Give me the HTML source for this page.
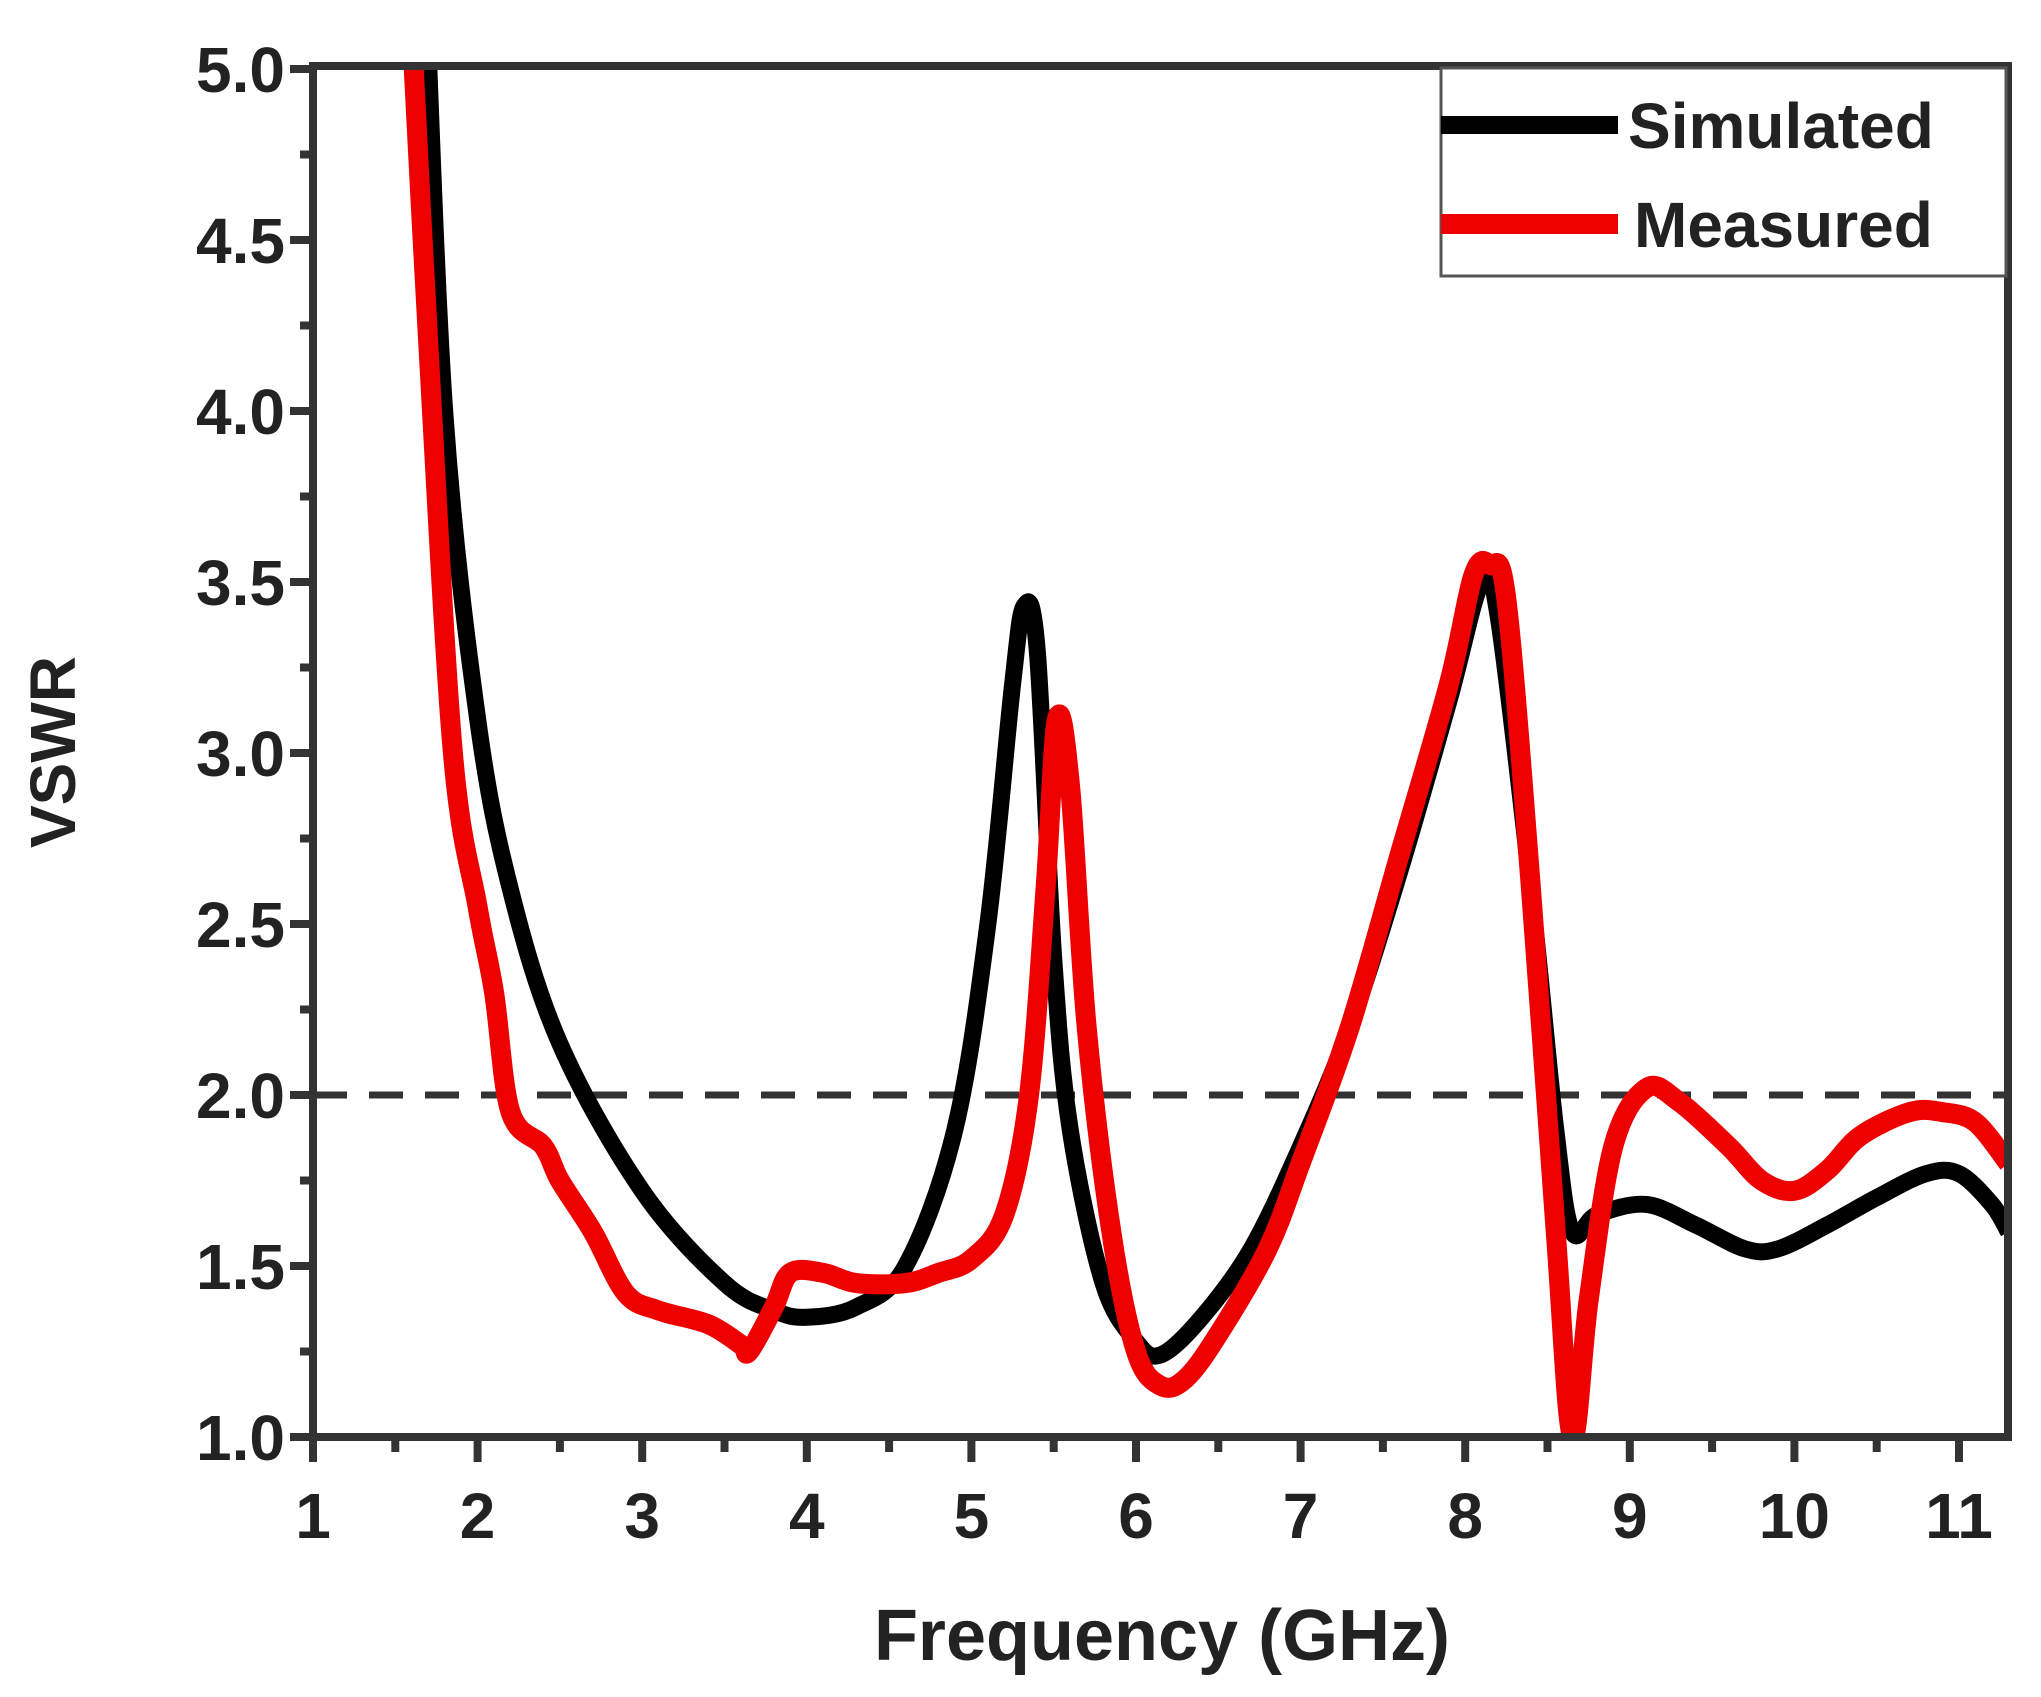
<!DOCTYPE html>
<html><head><meta charset="utf-8"><style>
html,body{margin:0;padding:0;background:#fff;}
svg{display:block;font-family:"Liberation Sans",Arial,sans-serif;font-weight:bold;}
</style></head><body>
<svg id="s" width="2041" height="1697" viewBox="0 0 2041 1697" xmlns="http://www.w3.org/2000/svg">
<rect width="2041" height="1697" fill="#fff"/>
<g id="g"></g>
<text x="75" y="752" font-size="64" text-anchor="middle" transform="rotate(-90 75 752)" fill="#222">VSWR</text>
<text x="1162" y="1660" font-size="72" text-anchor="middle" fill="#222">Frequency (GHz)</text>
<rect x="1441" y="68" width="565" height="208" fill="#fff" stroke="#555" stroke-width="3"/>
<line x1="1441" y1="125" x2="1618" y2="125" stroke="#000" stroke-width="18"/>
<line x1="1441" y1="224" x2="1618" y2="224" stroke="#e00" stroke-width="20"/>
<text x="1628" y="148" font-size="64" fill="#222">Simulated</text>
<text x="1634" y="247" font-size="64" fill="#222">Measured</text>
</svg>
<script>
var X=function(f){return 313+(f-1)*164.6}, Y=function(v){return 1437-(v-1)*342};
var g=document.getElementById('g'),h='';
h+='<defs><clipPath id="c"><rect x="313" y="64" width="1695" height="1374"/></clipPath></defs>';
h+='<line x1="313" y1="1095" x2="2008" y2="1095" stroke="#333" stroke-width="7" stroke-dasharray="34,22"/>';
function path(pts,col,w){var p=pts.map(function(a){return[X(a[0]),Y(a[1])]});var d='M'+p[0][0]+' '+p[0][1];
for(var i=0;i<p.length-1;i++){var p0=p[Math.max(0,i-1)],p1=p[i],p2=p[i+1],p3=p[Math.min(p.length-1,i+2)];
d+=' C'+(p1[0]+(p2[0]-p0[0])/6)+' '+(p1[1]+(p2[1]-p0[1])/6)+' '+(p2[0]-(p3[0]-p1[0])/6)+' '+(p2[1]-(p3[1]-p1[1])/6)+' '+p2[0]+' '+p2[1];}
return '<path d="'+d+'" fill="none" stroke="'+col+'" stroke-width="'+w+'" stroke-linejoin="round" clip-path="url(#c)"/>';}
var sim=[[1.68,5.3],[1.8,4.0],[2.0,3.1],[2.2,2.6],[2.5,2.15],[3.0,1.72],[3.5,1.45],[3.8,1.37],[4.0,1.35],[4.3,1.38],[4.6,1.5],[4.9,1.9],[5.1,2.5],[5.25,3.2],[5.32,3.43],[5.4,3.3],[5.5,2.4],[5.6,1.9],[5.8,1.45],[6.0,1.28],[6.15,1.24],[6.4,1.35],[6.7,1.55],[7.0,1.85],[7.3,2.2],[7.6,2.65],[7.9,3.15],[8.1,3.5],[8.2,3.4],[8.4,2.6],[8.55,1.9],[8.65,1.6],[8.8,1.65],[9.1,1.68],[9.4,1.62],[9.7,1.55],[9.9,1.55],[10.2,1.62],[10.5,1.7],[10.8,1.77],[11.0,1.77],[11.2,1.68],[11.3,1.6]];
var mea=[[1.58,5.3],[1.7,4.2],[1.85,3.0],[2.0,2.55],[2.1,2.3],[2.2,1.95],[2.4,1.85],[2.5,1.75],[2.7,1.6],[2.9,1.42],[3.1,1.37],[3.4,1.33],[3.6,1.27],[3.65,1.25],[3.8,1.38],[3.9,1.48],[4.1,1.48],[4.3,1.45],[4.6,1.45],[4.8,1.48],[5.0,1.52],[5.2,1.65],[5.35,2.0],[5.45,2.6],[5.52,3.1],[5.6,2.9],[5.7,2.2],[5.85,1.6],[6.0,1.25],[6.15,1.15],[6.3,1.17],[6.5,1.3],[6.8,1.55],[7.0,1.8],[7.3,2.2],[7.6,2.7],[7.9,3.2],[8.05,3.52],[8.15,3.55],[8.25,3.45],[8.4,2.6],[8.55,1.6],[8.65,1.0],[8.75,1.4],[8.9,1.85],[9.1,2.02],[9.3,1.98],[9.6,1.85],[9.8,1.75],[10.0,1.72],[10.2,1.78],[10.4,1.88],[10.7,1.95],[10.9,1.95],[11.1,1.92],[11.3,1.8]];
h+=path(sim,'#000',17);h+=path(mea,'#e00',20);
h+='<rect x="313" y="66" width="1695" height="1371" fill="none" stroke="#333" stroke-width="8"/>';
for(var f=1;f<=11.01;f+=0.5){var x=X(f),maj=Math.abs(f-Math.round(f))<0.01;
h+='<line x1="'+x+'" y1="1437" x2="'+x+'" y2="'+(maj?1462:1452)+'" stroke="#333" stroke-width="8"/>';
if(maj)h+='<text x="'+x+'" y="1538" font-size="64" text-anchor="middle" fill="#222">'+Math.round(f)+'</text>';}
for(var v=1;v<=5.01;v+=0.25){var y=Y(v),maj=Math.abs(v*2-Math.round(v*2))<0.01;
h+='<line x1="313" y1="'+y+'" x2="'+(maj?290:300)+'" y2="'+y+'" stroke="#333" stroke-width="8"/>';
if(maj)h+='<text x="285" y="'+(y+23)+'" font-size="64" text-anchor="end" fill="#222">'+v.toFixed(1)+'</text>';}
g.innerHTML=h;
</script>
</body></html>
